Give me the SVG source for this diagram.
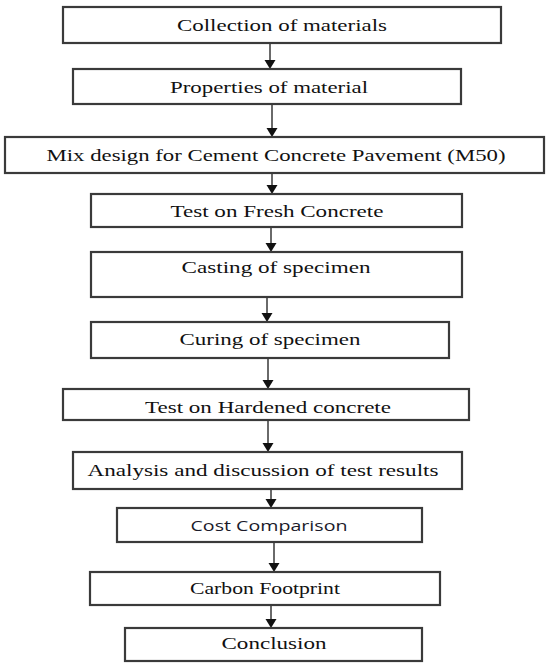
<svg xmlns="http://www.w3.org/2000/svg" width="547" height="663" viewBox="0 0 547 663">
  <defs>
    <marker id="ah" markerUnits="userSpaceOnUse" markerWidth="12" markerHeight="12" viewBox="0 -6 10 12" refX="0" refY="0" orient="auto">
      <path d="M0,-5.5 L9,0 L0,5.5 Z" fill="#111"/>
    </marker>
    <style>
      .box{fill:#fff;stroke:#3a3a3a;stroke-width:2.2}
      .t{font-family:"Liberation Serif","Times New Roman",serif;font-size:17px;fill:#111;text-anchor:middle}
      .s{font-family:"Open Sans","Liberation Sans",sans-serif;font-size:15px;fill:#1a1a2a;text-anchor:middle}
      .c{stroke:#6a6a6a;stroke-width:2;fill:none;marker-end:url(#ah)}
    </style>
  </defs>
  <rect width="547" height="663" fill="#fff"/>
  <g id="connectors">
    <line class="c" x1="270" y1="43" x2="270" y2="60"/>
    <line class="c" x1="272" y1="104" x2="272" y2="128"/>
    <line class="c" x1="272" y1="173" x2="272" y2="185"/>
    <line class="c" x1="271" y1="227" x2="271" y2="243"/>
    <line class="c" x1="267" y1="297" x2="267" y2="313"/>
    <line class="c" x1="268" y1="358" x2="268" y2="380"/>
    <line class="c" x1="268" y1="420" x2="268" y2="443"/>
    <line class="c" x1="271" y1="489" x2="271" y2="499"/>
    <line class="c" x1="274" y1="542" x2="274" y2="563"/>
    <line class="c" x1="271" y1="605" x2="271" y2="619"/>
  </g>
  <g id="n1"><rect class="box" x="63" y="7" width="438" height="36"/><text class="t" x="282" y="31" textLength="210" lengthAdjust="spacingAndGlyphs">Collection of materials</text></g>
  <g id="n2"><rect class="box" x="73" y="69" width="388" height="35"/><text class="t" x="269" y="93" textLength="198" lengthAdjust="spacingAndGlyphs">Properties of material</text></g>
  <g id="n3"><rect class="box" x="5" y="137" width="539" height="36"/><text class="t" x="276" y="161" textLength="459" lengthAdjust="spacingAndGlyphs">Mix design for Cement Concrete Pavement (M50)</text></g>
  <g id="n4"><rect class="box" x="91" y="194" width="371" height="33"/><text class="t" x="277" y="217" textLength="213" lengthAdjust="spacingAndGlyphs">Test on Fresh Concrete</text></g>
  <g id="n5"><rect class="box" x="91" y="252" width="371" height="45"/><text class="t" x="276" y="273" textLength="189" lengthAdjust="spacingAndGlyphs">Casting of specimen</text></g>
  <g id="n6"><rect class="box" x="91" y="322" width="358" height="36"/><text class="t" x="270" y="345" textLength="181" lengthAdjust="spacingAndGlyphs">Curing of specimen</text></g>
  <g id="n7"><rect class="box" x="63" y="389" width="406" height="31"/><text class="t" x="268" y="413" textLength="246" lengthAdjust="spacingAndGlyphs">Test on Hardened concrete</text></g>
  <g id="n8"><rect class="box" x="73" y="452" width="389" height="37"/><text class="t" x="263" y="476" textLength="351" lengthAdjust="spacingAndGlyphs">Analysis and discussion of test results</text></g>
  <g id="n9"><rect class="box" x="117" y="508" width="305" height="34"/><text class="s" x="269" y="531" textLength="157" lengthAdjust="spacingAndGlyphs">Cost Comparison</text></g>
  <g id="n10"><rect class="box" x="90" y="572" width="350" height="33"/><text class="t" x="265" y="594" textLength="150" lengthAdjust="spacingAndGlyphs">Carbon Footprint</text></g>
  <g id="n11"><rect class="box" x="125" y="628" width="297" height="33"/><text class="t" x="274" y="649" textLength="105" lengthAdjust="spacingAndGlyphs">Conclusion</text></g>
</svg>
